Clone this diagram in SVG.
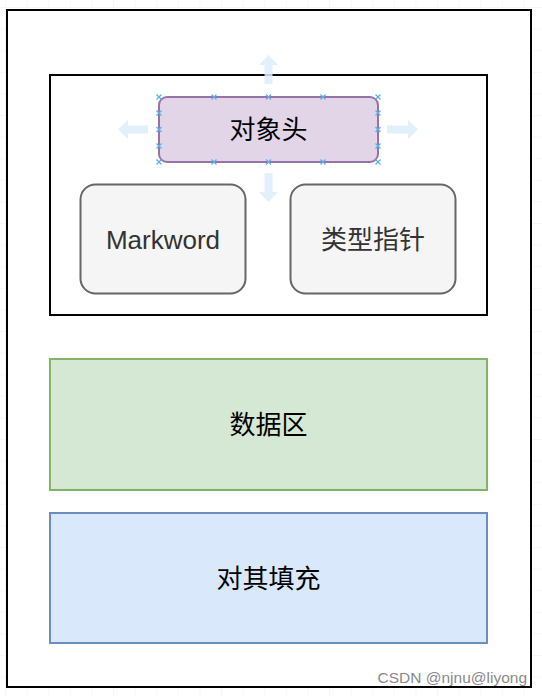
<svg xmlns="http://www.w3.org/2000/svg" width="542" height="696" viewBox="0 0 542 696">
<defs>
<pattern id="grid" x="6" y="8" width="21.6" height="21.6" patternUnits="userSpaceOnUse">
<path d="M21.6 0V21.6M0 21.6H21.6" fill="none" stroke="#efefef" stroke-width="1"/>
</pattern>
<path id="xm" d="M-2.5 -2.5L2.5 2.5M-2.5 2.5L2.5 -2.5" stroke="#58b0f0" stroke-width="1.2" fill="none"/>
</defs>
<style>
text{font-family:"Liberation Sans","Noto Sans CJK SC",sans-serif;font-size:26px;text-anchor:middle;dominant-baseline:central;fill:#000}
.gray{fill:#333}
.handle{fill:#dcefFB;opacity:0.85}
</style>
<rect x="0" y="0" width="542" height="696" fill="#fff"/>
<rect x="0" y="0" width="542" height="696" fill="url(#grid)"/>
<g id="outer">
<rect x="7" y="10" width="524" height="677" fill="#fff" stroke="#000" stroke-width="2"/>
</g>
<g id="header">
<rect x="50" y="75" width="437" height="240" fill="#fff" stroke="#000" stroke-width="2"/>
</g>
<g id="markword">
<rect x="80.5" y="184.5" width="165" height="109" rx="15" fill="#f5f5f5" stroke="#666" stroke-width="2"/>
<text x="163" y="240" class="gray">Markword</text>
</g>
<g id="klass">
<rect x="290.5" y="184.5" width="165" height="109" rx="15" fill="#f5f5f5" stroke="#666" stroke-width="2"/>
<text x="373" y="240" class="gray">类型指针</text>
</g>
<g id="data">
<rect x="50" y="359" width="437" height="131" fill="#d5e8d4" stroke="#82b366" stroke-width="2"/>
<text x="268.5" y="425">数据区</text>
</g>
<g id="padding">
<rect x="50" y="513" width="437" height="130" fill="#dae8fc" stroke="#6c8ebf" stroke-width="2"/>
<text x="268.5" y="579">对其填充</text>
</g>
<g id="handles">
<path class="handle" d="M268.5 55L278 65H272.5V84H264.5V65H259Z"/>
<path class="handle" d="M268.5 202L278 192H272.5V173H264.5V192H259Z"/>
<path class="handle" d="M118 129.5L128 120V125.5H148V133.5H128V139Z"/>
<path class="handle" d="M418 129.5L408 120V125.5H387V133.5H408V139Z"/>
</g>
<g id="objhead">
<rect x="159" y="97" width="219" height="65" rx="8" fill="#e1d5e7" stroke="#9673a6" stroke-width="2"/>
<text x="268.5" y="130">对象头</text>
</g>
<g id="markers">
<use href="#xm" x="159" y="97"/><use href="#xm" x="214" y="97"/><use href="#xm" x="268.5" y="97"/><use href="#xm" x="323" y="97"/><use href="#xm" x="378" y="97"/>
<use href="#xm" x="159" y="162"/><use href="#xm" x="214" y="162"/><use href="#xm" x="268.5" y="162"/><use href="#xm" x="323" y="162"/><use href="#xm" x="378" y="162"/>
<use href="#xm" x="159" y="113"/><use href="#xm" x="159" y="129.5"/><use href="#xm" x="159" y="146"/>
<use href="#xm" x="378" y="113"/><use href="#xm" x="378" y="129.5"/><use href="#xm" x="378" y="146"/>
</g>
<g id="connectors"></g>
<text x="527" y="677" style="font-size:15.5px;text-anchor:end;fill:#8a8a8a">CSDN @njnu@liyong</text>
</svg>
